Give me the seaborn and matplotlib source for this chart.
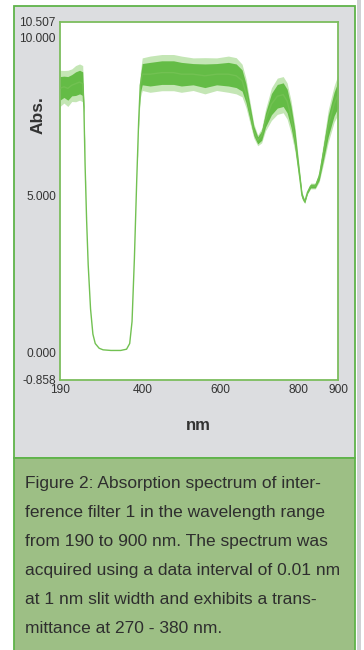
import numpy as np
import pandas as pd
import matplotlib
matplotlib.use("Agg")
import matplotlib.pyplot as plt
import seaborn as sns
from matplotlib.patches import Rectangle

# ---- data ----
wavelength = [190, 200, 210, 220, 230, 240, 248, 251, 254, 258, 262, 268, 274, 280, 290,
              300, 320, 345, 360, 368, 374, 380, 386, 391, 395, 400, 420, 450, 480, 500,
              530, 560, 590, 620, 640, 655, 665, 675, 685, 695, 705, 715, 730, 745, 760,
              770, 780, 790, 800, 808, 815, 822, 830, 842, 852, 862, 875, 890, 900]
absorbance = [8.40, 8.45, 8.40, 8.50, 8.55, 8.60, 8.55, 7.80, 6.00, 4.20, 2.80, 1.40, 0.60, 0.30, 0.15,
              0.10, 0.08, 0.08, 0.12, 0.30, 1.00, 3.00, 5.50, 7.40, 8.50, 8.85, 8.85, 8.90, 8.90, 8.85,
              8.85, 8.80, 8.85, 8.85, 8.80, 8.65, 8.25, 7.65, 7.05, 6.75, 6.90, 7.40, 7.90, 8.15, 8.20,
              8.00, 7.50, 6.80, 5.80, 5.00, 4.80, 5.10, 5.30, 5.30, 5.60, 6.30, 7.20, 7.90, 8.20]
noise_halfwidth = [0.50, 0.45, 0.50, 0.45, 0.50, 0.50, 0.50, 0.20, 0.05, 0.00, 0.00, 0.00, 0.00, 0.00, 0.00,
                   0.00, 0.00, 0.00, 0.00, 0.00, 0.00, 0.00, 0.00, 0.10, 0.35, 0.45, 0.50, 0.50, 0.50, 0.50,
                   0.45, 0.50, 0.45, 0.50, 0.50, 0.45, 0.40, 0.30, 0.20, 0.15, 0.20, 0.30, 0.45, 0.50, 0.50,
                   0.50, 0.45, 0.35, 0.20, 0.10, 0.05, 0.05, 0.08, 0.08, 0.15, 0.30, 0.45, 0.50, 0.55]

x_ticks = [190, 400, 600, 800, 900]
y_ticks = [-0.858, 0.0, 5.0, 10.0, 10.507]
y_tick_labels = ["-0.858", "0.000", "5.000", "10.000", "10.507"]

caption_lines = [
    "Figure 2: Absorption spectrum of inter-",
    "ference filter 1 in the wavelength range",
    "from 190 to 900 nm. The spectrum was",
    "acquired using a data interval of 0.01 nm",
    "at 1 nm slit width and exhibits a trans-",
    "mittance at 270 - 380 nm.",
]

# ---- styling ----
sns.set_theme(style="white")
FONT = ["Liberation Sans", "DejaVu Sans"]
plt.rcParams["font.family"] = FONT

W, H = 364, 650
fig = plt.figure(figsize=(W / 100, H / 100), dpi=100)
fig.patch.set_facecolor("white")

def fx(px):
    return px / W

def fy(py):
    return 1 - py / H

GREEN_BORDER = "#5fb34a"
GRAY = "#dcdde0"
CAPTION_BG = "#9dbf85"

# panel backgrounds
fig.patches.append(Rectangle((fx(357), fy(650)), fx(4), 1, transform=fig.transFigure,
                             facecolor="#d0d1d4", edgecolor="none", zorder=0))
fig.patches.append(Rectangle((fx(14), fy(458)), fx(341), (458 - 6) / H, transform=fig.transFigure,
                             facecolor=GRAY, edgecolor=GREEN_BORDER, linewidth=1.3, zorder=1))
fig.patches.append(Rectangle((fx(14), fy(660)), fx(341), (660 - 458) / H, transform=fig.transFigure,
                             facecolor=CAPTION_BG, edgecolor=GREEN_BORDER, linewidth=1.3, zorder=1))

# axes
ax = fig.add_axes([fx(60), fy(380), fx(338 - 60), (380 - 22) / H])
ax.set_facecolor("white")
ax.set_zorder(3)

df = pd.DataFrame({"nm": wavelength, "Abs": absorbance})
a = np.array(absorbance)
hw = np.array(noise_halfwidth)
# soft outer fringe and denser core of the noisy trace
ax.fill_between(wavelength, a - hw * 1.15, a + hw * 1.15, color="#7cc85c", linewidth=0, alpha=0.45)
ax.fill_between(wavelength, a - hw * 0.75, a + hw * 0.75, color="#5ab83a", linewidth=0, alpha=0.9)
sns.lineplot(data=df, x="nm", y="Abs", ax=ax, color="#72c152", linewidth=1.0)

ax.set_xlim(190, 900)
ax.set_ylim(-0.858, 10.507)
ax.set_xticks(x_ticks)
ax.set_xticklabels([str(t) for t in x_ticks])
ax.set_yticks(y_ticks)
ax.set_yticklabels(y_tick_labels)
ax.tick_params(axis="both", length=0, labelsize=8.6, colors="#333333")
ax.tick_params(axis="x", pad=3)
ax.tick_params(axis="y", pad=3)
ax.set_xlabel("")
ax.set_ylabel("")
for s in ax.spines.values():
    s.set_visible(True)
    s.set_color("#7cbd5e")
    s.set_linewidth(1.3)

# axis titles
fig.text(fx(38), fy(115), "Abs.", rotation=90, ha="center", va="center",
         fontsize=12.5, fontweight="bold", color="#333333")
fig.text(fx(198), fy(425), "nm", ha="center", va="center",
         fontsize=12, fontweight="bold", color="#333333")

# caption
for i, line in enumerate(caption_lines):
    fig.text(fx(25), fy(488 + 29 * i), line, ha="left", va="baseline",
             fontsize=12.5, color="#2e2e2e")

fig.savefig("out.png", dpi=100)
